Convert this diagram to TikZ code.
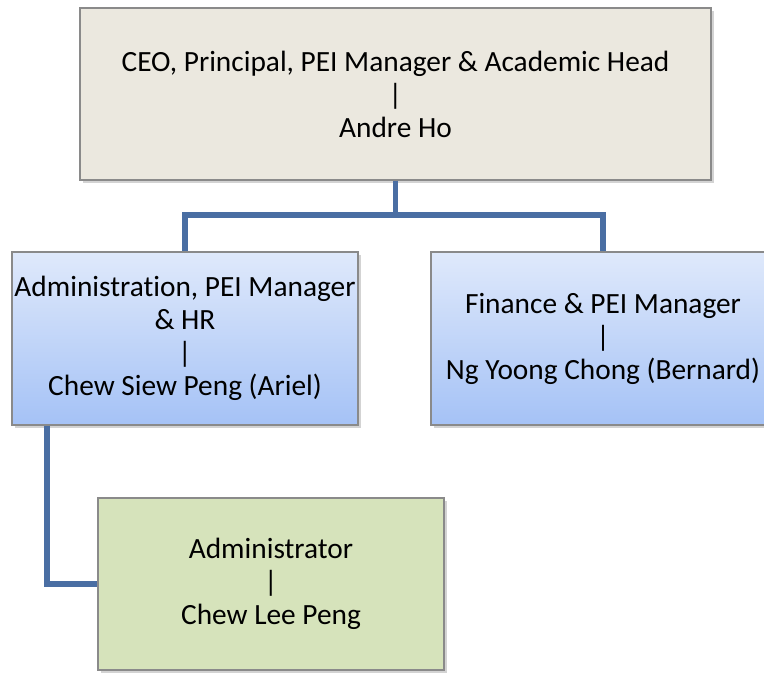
\documentclass[tikz,border=0pt]{standalone}
\usepackage{fontspec}
\setmainfont[RawFeature=-liga]{Carlito}
\usepackage{tikz}
\usetikzlibrary{positioning,shadows}

\definecolor{headFill}{HTML}{EBE8DF}
\definecolor{blueTop}{HTML}{DFE9FB}
\definecolor{blueBottom}{HTML}{A5C2F6}
\definecolor{greenFill}{HTML}{D6E3BB}
\definecolor{boxLine}{HTML}{8A8A8A}
\definecolor{linkLine}{HTML}{4A6EA3}

\tikzset{
    box/.style={draw=boxLine, line width=0.6pt, align=center, font=\fontsize{16.7}{18.8}\selectfont,
        inner sep=0pt, drop shadow={opacity=0.35, shadow xshift=0.06cm, shadow yshift=-0.06cm}},
    link/.style={draw=linkLine, line width=3.4pt}
}

\begin{document}
\begin{tikzpicture}[]
    \useasboundingbox (0,0) rectangle (15.28,13.46);
    \node[box, fill=headFill, minimum width=12.62cm, minimum height=3.44cm] (ceo) at (7.91,11.58)
        {CEO, Principal, PEI Manager \& Academic Head\\|\\Andre Ho};
    \node[box, top color=blueTop, bottom color=blueBottom, minimum width=6.92cm, minimum height=3.46cm] (admin) at (3.70,6.69)
        {Administration, PEI Manager\\\& HR\\|\\Chew Siew Peng (Ariel)};
    \node[box, top color=blueTop, bottom color=blueBottom, minimum width=6.88cm, minimum height=3.46cm] (finance) at (12.06,6.69)
        {Finance \& PEI Manager\\|\\Ng Yoong Chong (Bernard)};
    \node[box, fill=greenFill, minimum width=6.92cm, minimum height=3.44cm] (administrator) at (5.42,1.78)
        {Administrator\\|\\Chew Lee Peng};

    \coordinate (bus) at (7.91,9.16);
    \coordinate (drop) at (0.94,6.69);


\draw[link] (ceo.south) -- (bus);
\draw[link] (bus) -| (admin.north);
\draw[link] (bus) -| (finance.north);
\draw[link] (drop |- admin.south) -- (drop |- administrator.west) -- (administrator.west);

\end{tikzpicture}
\end{document}
